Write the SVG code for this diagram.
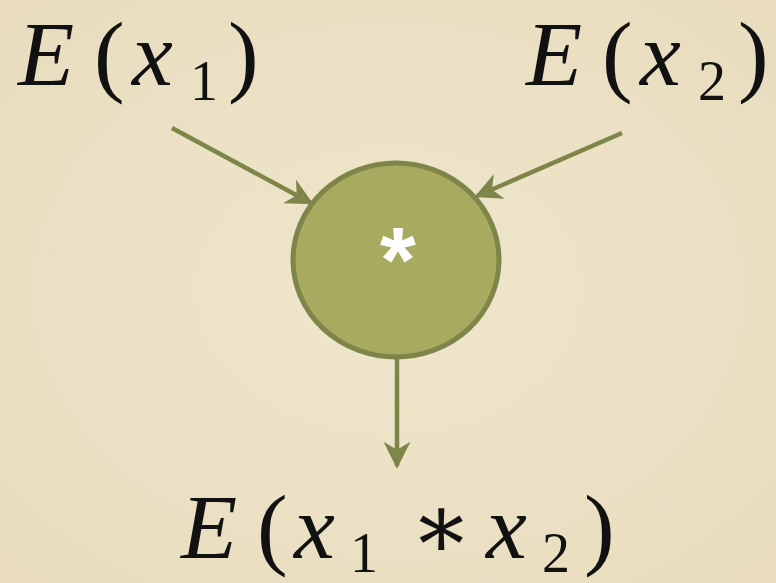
<svg xmlns="http://www.w3.org/2000/svg" width="776" height="583" viewBox="0 0 776 583">
<defs>
<style>
.m{font-family:"Liberation Serif","DejaVu Serif",serif;fill:#111;}
.i{font-style:italic;}
.c{stroke:#7e8549;stroke-width:4.5;fill:none;}
</style>
<marker id="ah" viewBox="0 0 10 10" refX="9" refY="5" markerWidth="6" markerHeight="6" orient="auto" markerUnits="strokeWidth">
<path d="M0,0 L10,5 L0,10 L3,5 Z" fill="#7e8549"/>
</marker>
<radialGradient id="bg" cx="50%" cy="50%" r="70%">
<stop offset="0" stop-color="#efe6cc"/>
<stop offset="1" stop-color="#e8dcbd"/>
</radialGradient>
</defs>
<rect width="776" height="583" fill="url(#bg)"/>
<g id="connectors">
<line class="c" x1="172" y1="128" x2="311" y2="203" marker-end="url(#ah)"/>
<line class="c" x1="622" y1="133" x2="477" y2="196" marker-end="url(#ah)"/>
<line class="c" x1="397" y1="352" x2="397" y2="466" marker-end="url(#ah)"/>
</g>
<g id="mult">
<ellipse cx="396" cy="260" rx="103" ry="97" fill="#a8aa5f" stroke="#7e8549" stroke-width="5"/>
<text x="398" y="292" font-family="Liberation Sans,Arial,sans-serif" font-size="92" font-weight="bold" fill="#fff" text-anchor="middle">*</text>
</g>
<g id="ex1">
<text class="m" font-size="92" y="85"><tspan class="i" x="18">E</tspan><tspan x="94">(</tspan><tspan class="i" x="132">x</tspan><tspan x="190" y="100" font-size="56">1</tspan><tspan x="228" y="85">)</tspan></text>
</g>
<g id="ex2">
<text class="m" font-size="92" y="85"><tspan class="i" x="526">E</tspan><tspan x="602">(</tspan><tspan class="i" x="640">x</tspan><tspan x="698" y="100" font-size="56">2</tspan><tspan x="738" y="85">)</tspan></text>
</g>
<g id="eout">
<text class="m" font-size="92" y="558"><tspan class="i" x="181">E</tspan><tspan x="257">(</tspan><tspan class="i" x="294">x</tspan><tspan x="350" y="572" font-size="56">1</tspan><tspan x="410" y="558">∗</tspan><tspan class="i" x="486">x</tspan><tspan x="542" y="572" font-size="56">2</tspan><tspan x="584" y="558">)</tspan></text>
</g>
</svg>
